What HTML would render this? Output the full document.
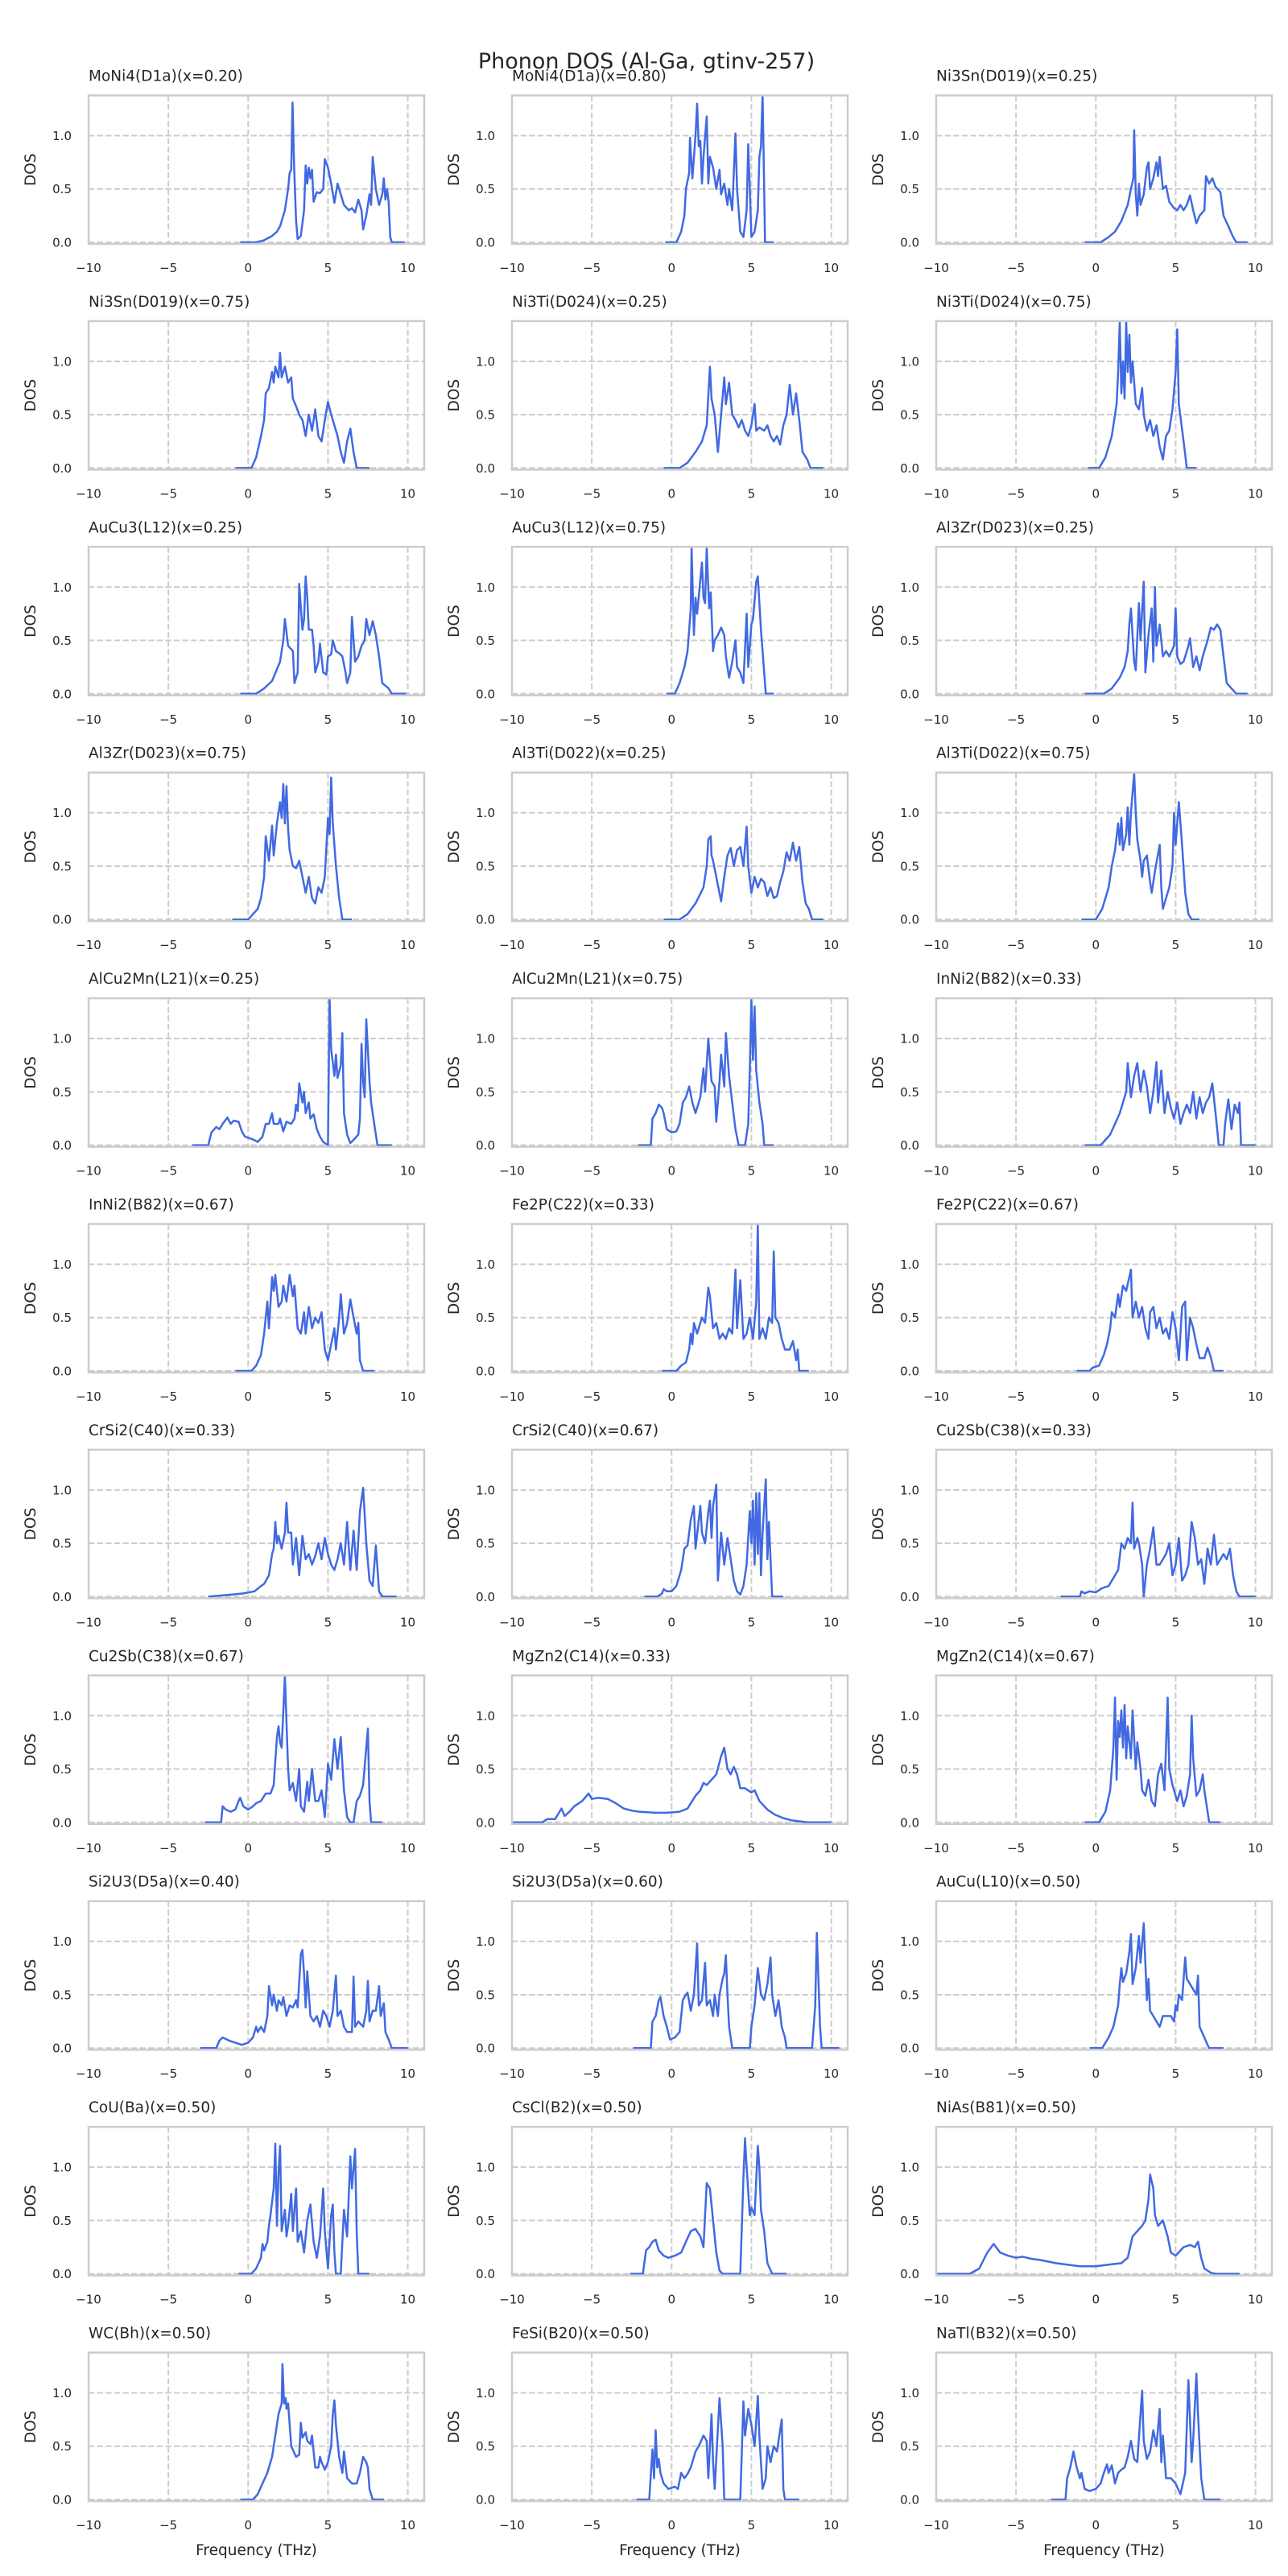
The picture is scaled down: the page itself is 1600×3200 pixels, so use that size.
<!DOCTYPE html>
<html><head><meta charset="utf-8">
<style>
html,body{margin:0;padding:0;background:#fff;}
svg{display:block;font-family:"DejaVu Sans","Liberation Sans",sans-serif;}
</style></head>
<body>
<svg id="fig" width="1600" height="3200" viewBox="0 0 1600 3200" xmlns="http://www.w3.org/2000/svg">
<rect width="1600" height="3200" fill="#fff"/>
<text x="803" y="85" font-size="27" text-anchor="middle" fill="#262626">Phonon DOS (Al-Ga, gtinv-257)</text>
</svg>
<script>
const titles = ["MoNi4(D1a)(x=0.20)","MoNi4(D1a)(x=0.80)","Ni3Sn(D019)(x=0.25)","Ni3Sn(D019)(x=0.75)","Ni3Ti(D024)(x=0.25)","Ni3Ti(D024)(x=0.75)","AuCu3(L12)(x=0.25)","AuCu3(L12)(x=0.75)","Al3Zr(D023)(x=0.25)","Al3Zr(D023)(x=0.75)","Al3Ti(D022)(x=0.25)","Al3Ti(D022)(x=0.75)","AlCu2Mn(L21)(x=0.25)","AlCu2Mn(L21)(x=0.75)","InNi2(B82)(x=0.33)","InNi2(B82)(x=0.67)","Fe2P(C22)(x=0.33)","Fe2P(C22)(x=0.67)","CrSi2(C40)(x=0.33)","CrSi2(C40)(x=0.67)","Cu2Sb(C38)(x=0.33)","Cu2Sb(C38)(x=0.67)","MgZn2(C14)(x=0.33)","MgZn2(C14)(x=0.67)","Si2U3(D5a)(x=0.40)","Si2U3(D5a)(x=0.60)","AuCu(L10)(x=0.50)","CoU(Ba)(x=0.50)","CsCl(B2)(x=0.50)","NiAs(B81)(x=0.50)","WC(Bh)(x=0.50)","FeSi(B20)(x=0.50)","NaTl(B32)(x=0.50)"];
const xTicks = [-10,-5,0,5,10];
const xTickLabels = ["\u221210","\u22125","0","5","10"];
const yTicks = [0,0.5,1.0];
const yTickLabels = ["0.0","0.5","1.0"];
// each series: flat [freq, dos, freq, dos, ...]
const dosSeries = [
[-0.5,0,0.5,0,1,0.02,1.5,0.06,1.8,0.1,2,0.15,2.3,0.3,2.5,0.5,2.6,0.65,2.7,0.68,2.78,1.31,2.88,0.7,3.0,0.2,3.1,0.03,3.3,0.06,3.5,0.3,3.6,0.72,3.7,0.55,3.8,0.7,3.9,0.6,4.0,0.68,4.1,0.38,4.3,0.47,4.5,0.46,4.7,0.5,4.8,0.78,5.0,0.7,5.2,0.55,5.4,0.37,5.6,0.55,5.8,0.45,6.0,0.35,6.3,0.3,6.5,0.32,6.7,0.28,6.9,0.4,7.1,0.3,7.2,0.12,7.4,0.25,7.6,0.45,7.7,0.35,7.8,0.8,8.0,0.5,8.2,0.35,8.4,0.45,8.5,0.6,8.6,0.4,8.7,0.5,8.8,0.38,8.9,0.05,9.0,0,9.8,0],
[-0.4,0,0.3,0,0.6,0.1,0.8,0.25,0.9,0.5,1.1,0.65,1.15,0.98,1.3,0.6,1.5,1.0,1.6,1.3,1.7,0.9,1.8,0.95,1.9,0.55,2.0,0.8,2.2,1.18,2.3,0.55,2.4,0.8,2.6,0.7,2.8,0.5,3.0,0.68,3.1,0.45,3.3,0.55,3.5,0.35,3.6,0.5,3.8,0.3,4.0,1.02,4.1,0.5,4.3,0.1,4.5,0.05,4.7,0.3,4.8,0.92,4.9,0.5,5.0,0.05,5.2,0.1,5.4,0.3,5.5,0.8,5.6,0.9,5.7,1.38,5.8,0.5,5.85,0,6.4,0],
[-0.7,0,0.3,0,0.8,0.05,1.2,0.1,1.6,0.2,2.0,0.35,2.2,0.5,2.35,0.6,2.4,1.05,2.5,0.45,2.6,0.25,2.7,0.55,2.8,0.35,3.0,0.45,3.2,0.7,3.3,0.75,3.4,0.5,3.6,0.6,3.8,0.75,3.9,0.62,4.0,0.8,4.2,0.5,4.4,0.53,4.6,0.38,4.9,0.32,5.1,0.3,5.3,0.35,5.5,0.3,5.7,0.35,5.9,0.44,6.1,0.3,6.3,0.18,6.5,0.25,6.8,0.3,6.9,0.62,7.1,0.55,7.3,0.6,7.5,0.52,7.8,0.47,8.0,0.25,8.3,0.15,8.6,0.05,8.8,0,9.5,0],
[-0.8,0,0.2,0,0.5,0.1,0.8,0.3,1.0,0.45,1.1,0.7,1.3,0.75,1.5,0.9,1.6,0.8,1.7,0.95,1.9,0.85,2.0,1.08,2.1,0.85,2.3,0.95,2.5,0.8,2.7,0.85,2.8,0.65,3.0,0.58,3.2,0.5,3.4,0.45,3.6,0.3,3.8,0.5,4.0,0.35,4.2,0.55,4.4,0.3,4.6,0.25,4.8,0.45,5.0,0.62,5.2,0.5,5.4,0.4,5.6,0.3,5.8,0.15,6.0,0.05,6.2,0.25,6.4,0.37,6.6,0.15,6.8,0,7.6,0],
[-0.5,0,0.5,0,1.0,0.05,1.5,0.15,1.9,0.25,2.2,0.4,2.4,0.95,2.5,0.65,2.7,0.5,2.9,0.15,3.1,0.5,3.3,0.85,3.4,0.6,3.6,0.8,3.8,0.5,4.0,0.45,4.2,0.38,4.4,0.45,4.6,0.35,4.8,0.3,5.0,0.4,5.2,0.6,5.3,0.35,5.5,0.38,5.8,0.35,6.0,0.4,6.2,0.3,6.4,0.25,6.6,0.3,6.8,0.22,7.0,0.4,7.2,0.5,7.4,0.78,7.6,0.5,7.8,0.7,8.0,0.45,8.2,0.15,8.5,0.08,8.7,0,9.5,0],
[-0.5,0,0.2,0,0.6,0.1,1.0,0.3,1.3,0.6,1.4,0.9,1.5,1.37,1.6,0.7,1.7,1.0,1.8,0.65,1.9,1.37,2.0,0.9,2.1,1.25,2.2,0.8,2.3,1.0,2.5,0.6,2.7,0.55,2.9,0.75,3.0,0.5,3.2,0.35,3.4,0.45,3.6,0.3,3.8,0.4,4.0,0.2,4.2,0.08,4.4,0.3,4.6,0.35,4.8,0.55,5.0,0.9,5.1,1.3,5.2,0.6,5.5,0.25,5.7,0,6.3,0],
[-0.5,0,0.5,0,1.0,0.05,1.5,0.12,2.0,0.3,2.2,0.5,2.3,0.7,2.5,0.45,2.8,0.4,2.9,0.1,3.1,0.2,3.2,1.03,3.4,0.6,3.5,0.7,3.6,1.1,3.7,0.9,3.8,0.6,4.0,0.6,4.1,0.45,4.2,0.2,4.4,0.3,4.5,0.47,4.7,0.2,4.9,0.18,5.0,0.35,5.2,0.37,5.3,0.5,5.5,0.4,5.7,0.38,5.9,0.35,6.1,0.2,6.2,0.1,6.4,0.2,6.5,0.72,6.7,0.3,6.9,0.35,7.1,0.45,7.3,0.5,7.4,0.7,7.6,0.55,7.8,0.68,8.0,0.55,8.2,0.35,8.4,0.1,8.8,0.05,9.0,0,9.9,0],
[-0.3,0,0.2,0,0.5,0.1,0.8,0.25,1.0,0.4,1.1,0.6,1.2,0.8,1.25,1.37,1.4,0.55,1.5,0.9,1.6,0.75,1.9,1.23,2.0,0.9,2.1,0.85,2.2,1.37,2.35,0.8,2.45,0.95,2.6,0.4,2.7,0.5,2.9,0.55,3.1,0.62,3.3,0.55,3.4,0.35,3.6,0.15,3.8,0.3,4.0,0.5,4.1,0.25,4.3,0.2,4.5,0.1,4.7,0.75,4.8,0.25,5.0,0.65,5.1,0.7,5.3,1.05,5.4,1.1,5.6,0.6,5.8,0.2,5.9,0,6.4,0],
[-0.7,0,0.5,0,1.0,0.05,1.5,0.15,1.8,0.25,2.0,0.4,2.1,0.65,2.2,0.8,2.3,0.55,2.4,0.3,2.5,0.22,2.7,0.85,2.8,0.5,3.0,1.05,3.1,0.2,3.3,0.55,3.5,0.8,3.6,0.3,3.7,1.0,3.8,0.45,4.0,0.65,4.2,0.35,4.4,0.4,4.6,0.35,4.9,0.45,5.0,0.8,5.1,0.35,5.3,0.28,5.5,0.3,5.8,0.45,5.9,0.52,6.1,0.25,6.3,0.35,6.5,0.22,6.7,0.35,7.0,0.5,7.2,0.62,7.4,0.6,7.6,0.65,7.8,0.6,8.0,0.35,8.2,0.1,8.5,0.05,8.8,0,9.5,0],
[-1,0,0,0,0.3,0.05,0.6,0.1,0.8,0.2,1.0,0.4,1.1,0.78,1.3,0.55,1.5,0.88,1.6,0.6,1.8,0.9,2.0,1.1,2.1,0.95,2.2,1.27,2.3,0.9,2.4,1.25,2.5,0.85,2.6,0.65,2.8,0.5,3.0,0.48,3.2,0.55,3.4,0.4,3.6,0.25,3.8,0.4,4.0,0.2,4.2,0.15,4.4,0.3,4.6,0.25,4.8,0.4,5.0,0.95,5.1,0.8,5.2,1.33,5.3,0.9,5.5,0.5,5.7,0.2,5.9,0,6.5,0],
[-0.5,0,0.5,0,1.0,0.05,1.5,0.15,2.0,0.3,2.2,0.5,2.3,0.75,2.45,0.78,2.5,0.6,2.6,0.55,2.8,0.4,3.1,0.17,3.3,0.4,3.5,0.6,3.7,0.67,3.9,0.5,4.1,0.65,4.3,0.68,4.5,0.5,4.7,0.87,4.8,0.5,5.0,0.25,5.2,0.4,5.4,0.3,5.6,0.38,5.8,0.35,6.0,0.22,6.2,0.3,6.4,0.2,6.6,0.22,6.8,0.35,7.0,0.45,7.2,0.63,7.4,0.55,7.6,0.72,7.8,0.55,8.0,0.68,8.2,0.35,8.4,0.15,8.6,0.1,8.8,0,9.5,0],
[-0.9,0,0,0,0.4,0.1,0.8,0.3,1.0,0.5,1.2,0.65,1.4,0.9,1.5,0.7,1.6,0.95,1.7,0.65,1.9,0.8,2.0,1.05,2.1,0.7,2.2,1.0,2.4,1.37,2.5,1.0,2.6,0.75,2.8,0.55,2.9,0.4,3.0,0.55,3.2,0.6,3.4,0.35,3.5,0.25,3.7,0.45,4.0,0.7,4.1,0.3,4.2,0.1,4.4,0.2,4.6,0.3,4.8,0.5,4.9,1.0,5.0,0.7,5.2,1.1,5.4,0.7,5.6,0.25,5.8,0.05,6.0,0,6.5,0],
[-3.5,0,-2.5,0,-2.3,0.12,-2.0,0.17,-1.8,0.15,-1.6,0.2,-1.3,0.26,-1.1,0.2,-0.9,0.23,-0.6,0.22,-0.4,0.13,-0.2,0.08,0.2,0.06,0.5,0.04,0.6,0.03,0.9,0.08,1.1,0.2,1.3,0.2,1.5,0.3,1.6,0.2,1.9,0.2,2.0,0.25,2.2,0.13,2.4,0.22,2.7,0.2,2.9,0.25,3.0,0.38,3.1,0.32,3.2,0.58,3.4,0.4,3.5,0.5,3.6,0.3,3.8,0.4,3.9,0.25,4.1,0.29,4.3,0.15,4.5,0.08,4.7,0.03,5.0,0,5.1,1.37,5.2,0.9,5.4,0.65,5.5,0.85,5.6,0.63,5.8,0.75,5.9,1.05,6.0,0.3,6.2,0.1,6.4,0.02,6.6,0.05,6.9,0.1,7.0,0.25,7.1,0.95,7.2,0.6,7.3,0.45,7.4,1.18,7.6,0.6,7.7,0.4,7.9,0.2,8.1,0,9.0,0],
[-2.1,0,-1.3,0,-1.2,0.25,-1.0,0.3,-0.8,0.38,-0.6,0.35,-0.5,0.3,-0.3,0.15,0,0.12,0.3,0.13,0.5,0.2,0.7,0.4,0.9,0.45,1.1,0.55,1.3,0.4,1.5,0.3,1.8,0.45,2.0,0.72,2.1,0.5,2.3,1.0,2.5,0.6,2.7,0.55,2.8,0.22,3.0,0.6,3.1,0.85,3.3,0.55,3.4,1.05,3.6,0.65,3.8,0.4,4.0,0.15,4.2,0,4.6,0,4.8,0.2,4.9,0.7,5.0,1.37,5.1,0.8,5.2,1.3,5.3,0.7,5.5,0.4,5.7,0.2,5.8,0,6.4,0],
[-0.7,0,0.3,0,0.6,0.05,0.9,0.1,1.2,0.2,1.5,0.3,1.7,0.4,1.9,0.5,2.0,0.77,2.2,0.45,2.4,0.65,2.6,0.77,2.8,0.5,3.0,0.7,3.2,0.55,3.4,0.3,3.6,0.5,3.8,0.78,3.9,0.4,4.1,0.7,4.3,0.3,4.5,0.5,4.7,0.35,4.9,0.25,5.1,0.4,5.3,0.2,5.5,0.3,5.7,0.38,5.9,0.3,6.1,0.5,6.3,0.25,6.5,0.45,6.7,0.3,6.9,0.4,7.1,0.45,7.3,0.58,7.5,0.3,7.7,0,8.0,0,8.1,0.2,8.3,0.43,8.5,0.15,8.7,0.38,8.9,0.3,9.0,0.4,9.1,0,10.0,0],
[-0.8,0,0.2,0,0.5,0.05,0.8,0.15,1.0,0.35,1.2,0.65,1.3,0.4,1.5,0.88,1.6,0.75,1.7,0.9,1.9,0.6,2.1,0.65,2.2,0.8,2.4,0.65,2.6,0.9,2.8,0.7,2.9,0.8,3.1,0.4,3.3,0.35,3.5,0.55,3.6,0.35,3.8,0.6,4.0,0.4,4.2,0.5,4.4,0.45,4.6,0.55,4.8,0.2,5.0,0.1,5.2,0.25,5.4,0.4,5.5,0.2,5.7,0.5,5.8,0.72,6.0,0.35,6.2,0.45,6.4,0.67,6.6,0.5,6.8,0.35,6.9,0.45,7.0,0.1,7.2,0,7.9,0],
[-0.6,0,0.3,0,0.6,0.05,0.9,0.08,1.1,0.2,1.2,0.35,1.3,0.25,1.4,0.45,1.6,0.35,1.8,0.45,1.9,0.5,2.1,0.45,2.3,0.78,2.4,0.7,2.6,0.4,2.8,0.45,3.0,0.3,3.2,0.35,3.4,0.3,3.6,0.4,3.8,0.35,4.0,0.95,4.1,0.4,4.3,0.85,4.5,0.3,4.7,0.35,4.9,0.5,5.1,0.3,5.3,0.65,5.4,1.37,5.5,0.3,5.7,0.4,5.9,0.3,6.1,0.5,6.3,0.45,6.4,1.12,6.5,0.5,6.7,0.45,6.9,0.3,7.1,0.2,7.4,0.2,7.6,0.28,7.8,0.1,7.9,0.2,8.0,0,8.6,0],
[-1.2,0,-0.4,0,-0.2,0.03,0.2,0.05,0.5,0.15,0.7,0.25,0.9,0.4,1.0,0.55,1.2,0.5,1.4,0.72,1.5,0.6,1.7,0.8,1.9,0.75,2.2,0.95,2.3,0.5,2.5,0.65,2.7,0.5,2.9,0.6,3.1,0.4,3.3,0.3,3.4,0.55,3.6,0.6,3.8,0.4,4.0,0.5,4.2,0.35,4.4,0.4,4.6,0.3,4.8,0.55,5.0,0.4,5.2,0.1,5.4,0.6,5.6,0.65,5.7,0.1,5.9,0.5,6.1,0.4,6.3,0.25,6.5,0.12,6.8,0.12,7.0,0.22,7.2,0.13,7.4,0,8.0,0],
[-2.5,0,-1.0,0.02,-0.3,0.03,0.4,0.05,0.8,0.1,1.0,0.12,1.3,0.2,1.5,0.4,1.6,0.45,1.7,0.7,1.8,0.5,1.9,0.57,2.1,0.45,2.3,0.6,2.4,0.88,2.5,0.6,2.7,0.6,2.8,0.3,3.0,0.55,3.2,0.2,3.4,0.57,3.6,0.35,3.8,0.4,4.0,0.3,4.2,0.38,4.4,0.5,4.6,0.35,4.8,0.55,5.0,0.4,5.2,0.3,5.4,0.25,5.6,0.35,5.8,0.5,6.0,0.3,6.2,0.7,6.4,0.25,6.6,0.62,6.8,0.25,7.0,0.8,7.2,1.02,7.4,0.5,7.6,0.15,7.8,0.1,8.0,0.48,8.2,0.05,8.4,0,9.3,0],
[-1.7,0,-0.9,0,-0.6,0.03,-0.5,0.07,-0.3,0.05,0,0.05,0.3,0.1,0.6,0.25,0.8,0.45,1.0,0.48,1.2,0.72,1.4,0.85,1.5,0.45,1.8,0.85,1.9,0.6,2.1,0.5,2.3,0.8,2.4,0.9,2.5,0.55,2.6,0.85,2.8,1.05,2.9,0.15,3.1,0.6,3.3,0.3,3.5,0.55,3.7,0.35,3.9,0.15,4.1,0.05,4.3,0.02,4.5,0.1,4.7,0.3,4.9,0.8,5.0,0.5,5.1,0.9,5.2,0.3,5.3,0.97,5.4,0.4,5.5,0.97,5.6,0.2,5.7,0.6,5.9,1.1,6.0,0.35,6.1,0.7,6.3,0,7.0,0],
[-2.2,0,-1.0,0,-0.9,0.05,-0.7,0.03,-0.4,0.05,0,0.04,0.4,0.08,0.8,0.1,1.2,0.2,1.4,0.25,1.6,0.5,1.8,0.45,2.0,0.55,2.2,0.5,2.3,0.88,2.4,0.45,2.6,0.55,2.7,0.5,2.9,0.3,3.0,0,3.2,0.3,3.4,0.45,3.6,0.65,3.8,0.3,4.0,0.3,4.2,0.35,4.4,0.4,4.6,0.5,4.8,0.2,5.0,0.3,5.2,0.55,5.4,0.15,5.6,0.2,5.8,0.3,6.0,0.7,6.2,0.55,6.4,0.3,6.6,0.35,6.8,0.12,7.0,0.45,7.2,0.3,7.4,0.58,7.6,0.3,7.8,0.35,8.0,0.4,8.2,0.35,8.4,0.45,8.6,0.2,8.8,0.05,9.0,0,10.0,0],
[-2.7,0,-1.7,0,-1.6,0.15,-1.4,0.12,-1.1,0.1,-0.8,0.12,-0.6,0.2,-0.5,0.23,-0.3,0.15,0,0.12,0.3,0.15,0.5,0.18,0.8,0.2,1.1,0.27,1.4,0.27,1.6,0.35,1.8,0.8,1.9,0.9,2.0,0.75,2.1,0.7,2.3,1.37,2.5,0.5,2.6,0.3,2.8,0.37,3.0,0.2,3.2,0.5,3.3,0.15,3.5,0.1,3.7,0.38,3.8,0.2,4.0,0.5,4.2,0.2,4.4,0.2,4.6,0.3,4.8,0.05,5.0,0.55,5.2,0.4,5.4,0.78,5.6,0.5,5.8,0.8,6.0,0.3,6.2,0.05,6.4,0,6.6,0,6.8,0.2,7.0,0.25,7.2,0.35,7.4,0.7,7.5,0.88,7.6,0.2,7.7,0,8.4,0],
[-10,0,-8.1,0,-7.8,0.03,-7.3,0.03,-6.9,0.13,-6.7,0.06,-6.4,0.1,-6.1,0.15,-5.6,0.2,-5.2,0.27,-5.0,0.22,-4.6,0.23,-4.0,0.22,-3.5,0.18,-3.0,0.13,-2.5,0.11,-2.0,0.1,-1.0,0.09,-0.3,0.09,0.5,0.1,1.0,0.13,1.5,0.25,1.8,0.3,2.0,0.37,2.2,0.35,2.5,0.4,2.8,0.45,3.1,0.62,3.3,0.7,3.5,0.5,3.7,0.45,3.9,0.52,4.1,0.45,4.3,0.32,4.6,0.32,5.0,0.28,5.2,0.3,5.5,0.2,6.0,0.12,6.5,0.07,7.0,0.04,7.5,0.02,8.0,0.01,8.5,0,10.0,0],
[-0.7,0,0.2,0,0.6,0.1,0.9,0.3,1.1,0.7,1.2,1.17,1.3,0.4,1.4,0.95,1.5,0.8,1.6,1.05,1.7,0.7,1.8,1.1,1.9,0.6,2.0,0.9,2.2,0.6,2.3,1.05,2.5,0.5,2.6,0.75,2.8,0.5,2.9,0.3,3.1,0.25,3.3,0.4,3.5,0.2,3.7,0.15,3.9,0.45,4.1,0.55,4.3,0.3,4.5,1.17,4.6,0.5,4.8,0.35,5.0,0.25,5.1,0.2,5.3,0.3,5.5,0.15,5.7,0.25,5.9,0.45,6.0,1.0,6.1,0.6,6.3,0.25,6.5,0.3,6.7,0.45,6.8,0.3,7.0,0.1,7.1,0,7.8,0],
[-3.0,0,-2.0,0,-1.8,0.07,-1.6,0.1,-1.2,0.07,-0.8,0.05,-0.4,0.03,0,0.05,0.3,0.1,0.5,0.2,0.6,0.15,0.8,0.2,1.0,0.15,1.2,0.3,1.3,0.58,1.5,0.4,1.6,0.5,1.8,0.35,1.9,0.45,2.1,0.4,2.2,0.48,2.4,0.3,2.6,0.4,2.8,0.38,3.0,0.45,3.1,0.38,3.3,0.88,3.4,0.92,3.5,0.7,3.6,0.38,3.7,0.72,3.9,0.3,4.1,0.25,4.3,0.3,4.5,0.2,4.7,0.35,4.9,0.3,5.1,0.2,5.3,0.35,5.5,0.68,5.6,0.3,5.8,0.35,6.0,0.2,6.2,0.15,6.5,0.15,6.6,0.67,6.7,0.2,6.9,0.25,7.2,0.2,7.4,0.35,7.5,0.63,7.6,0.25,7.8,0.35,8.0,0.35,8.2,0.58,8.3,0.3,8.5,0.42,8.6,0.15,8.8,0.08,9.0,0,10.0,0],
[-2.4,0,-1.3,0,-1.2,0.25,-1.0,0.3,-0.8,0.45,-0.7,0.48,-0.5,0.3,-0.3,0.2,-0.1,0.08,0.2,0.1,0.5,0.15,0.7,0.45,0.9,0.5,1.0,0.52,1.2,0.35,1.4,0.5,1.6,0.98,1.7,0.4,1.9,0.45,2.1,0.8,2.2,0.4,2.4,0.45,2.6,0.3,2.7,0.5,2.9,0.3,3.0,0.5,3.2,0.65,3.3,0.7,3.4,0.87,3.5,0.5,3.6,0.2,3.8,0,4.9,0,5.0,0.2,5.2,0.4,5.4,0.75,5.6,0.5,5.8,0.45,6.0,0.6,6.2,0.85,6.3,0.5,6.5,0.3,6.7,0.45,6.9,0.2,7.1,0.1,7.2,0,8.8,0,9.0,0.4,9.1,1.08,9.3,0.2,9.4,0,10.5,0],
[-0.4,0,0.4,0,0.8,0.1,1.1,0.2,1.4,0.4,1.5,0.6,1.6,0.75,1.7,0.62,1.9,0.7,2.1,0.9,2.2,1.07,2.3,0.6,2.5,0.75,2.7,1.05,2.8,0.8,3.0,1.17,3.2,0.45,3.3,0.65,3.4,0.35,3.6,0.3,3.8,0.25,4.0,0.2,4.2,0.3,4.5,0.3,4.7,0.3,4.9,0.25,5.0,0.4,5.1,0.35,5.2,0.5,5.4,0.45,5.6,0.85,5.7,0.65,5.9,0.6,6.1,0.55,6.3,0.5,6.4,0.68,6.5,0.2,6.8,0.1,7.0,0.03,7.1,0,8.0,0],
[-0.6,0,0.2,0,0.5,0.05,0.8,0.15,0.9,0.28,1.0,0.22,1.2,0.3,1.3,0.45,1.4,0.55,1.6,0.8,1.7,1.22,1.8,0.45,1.9,0.95,2.0,1.2,2.1,0.4,2.3,0.6,2.4,0.35,2.5,0.45,2.7,0.75,2.8,0.4,3.0,0.8,3.1,0.3,3.3,0.4,3.5,0.2,3.7,0.5,3.9,0.65,4.1,0.3,4.3,0.15,4.5,0.35,4.7,0.8,4.8,0.4,5.0,0.05,5.2,0.55,5.3,0.65,5.4,0.2,5.5,0,5.8,0,6.0,0.6,6.2,0.35,6.4,1.1,6.5,0.8,6.7,1.17,6.8,0.4,6.9,0,7.6,0],
[-2.6,0,-1.8,0,-1.6,0.22,-1.4,0.25,-1.2,0.3,-1.0,0.32,-0.8,0.22,-0.5,0.17,-0.2,0.15,0.2,0.17,0.6,0.2,0.9,0.3,1.2,0.4,1.5,0.42,1.8,0.35,2.0,0.25,2.2,0.85,2.4,0.8,2.6,0.5,2.8,0.2,3.0,0.03,3.2,0,4.3,0,4.5,0.9,4.6,1.27,4.7,1.0,4.9,0.55,5.0,0.62,5.2,0.55,5.4,1.2,5.5,1.0,5.6,0.6,5.8,0.4,6.0,0.1,6.3,0,7.2,0],
[-10,0,-7.9,0,-7.3,0.05,-6.8,0.2,-6.4,0.28,-6.0,0.2,-5.5,0.17,-5.0,0.15,-4.6,0.16,-4.0,0.14,-3.5,0.13,-2.5,0.1,-1.5,0.08,-1.0,0.07,0,0.07,1.0,0.09,1.6,0.1,2.0,0.15,2.3,0.35,2.6,0.4,2.9,0.45,3.1,0.5,3.3,0.7,3.4,0.93,3.6,0.8,3.7,0.55,3.9,0.45,4.2,0.5,4.5,0.35,4.7,0.2,5.0,0.17,5.5,0.25,5.9,0.27,6.2,0.25,6.4,0.3,6.6,0.15,6.8,0.05,7.2,0.01,7.5,0,9.0,0],
[-0.5,0,0.3,0,0.6,0.05,0.9,0.15,1.2,0.25,1.5,0.4,1.7,0.6,1.9,0.8,2.0,0.85,2.1,0.9,2.15,1.27,2.25,0.9,2.35,0.95,2.4,0.85,2.5,0.9,2.7,0.5,3.0,0.4,3.2,0.42,3.3,0.72,3.4,0.58,3.6,0.63,3.7,0.55,3.9,0.52,4.0,0.6,4.2,0.3,4.4,0.3,4.5,0.4,4.6,0.35,4.8,0.28,5.0,0.35,5.2,0.5,5.3,0.8,5.4,0.93,5.5,0.7,5.7,0.4,5.9,0.25,6.0,0.45,6.2,0.2,6.5,0.15,6.8,0.15,7.0,0.25,7.2,0.4,7.4,0.35,7.5,0.3,7.6,0.1,7.8,0,8.5,0],
[-2.2,0,-1.4,0,-1.2,0.47,-1.1,0.2,-1.0,0.65,-0.9,0.3,-0.8,0.38,-0.7,0.25,-0.5,0.15,-0.2,0.1,0.2,0.12,0.4,0.1,0.6,0.25,0.8,0.2,1.0,0.24,1.2,0.3,1.5,0.45,1.7,0.5,2.0,0.6,2.2,0.55,2.3,0.2,2.5,0.8,2.6,0.35,2.7,0.1,3.0,0.95,3.2,0.5,3.3,0,4.3,0,4.5,0.92,4.6,0.6,4.8,0.85,5.0,0.7,5.2,0.5,5.4,0.97,5.5,0.6,5.7,0.1,5.9,0.2,6.0,0.5,6.2,0.35,6.4,0.5,6.6,0.45,6.8,0.65,6.9,0.75,7.0,0.1,7.1,0,8.0,0],
[-2.8,0,-1.9,0,-1.8,0.2,-1.6,0.3,-1.4,0.45,-1.2,0.3,-1.0,0.2,-0.9,0.25,-0.7,0.1,-0.4,0.08,0,0.1,0.3,0.15,0.5,0.25,0.7,0.33,0.8,0.25,1.0,0.32,1.2,0.15,1.4,0.25,1.6,0.28,1.8,0.3,2.0,0.4,2.2,0.55,2.4,0.38,2.6,0.35,2.8,0.8,2.9,1.02,3.0,0.55,3.2,0.38,3.4,0.45,3.6,0.65,3.8,0.5,4.0,0.85,4.1,0.35,4.2,0.6,4.4,0.2,4.7,0.2,5.0,0.15,5.3,0.05,5.6,0.25,5.8,1.12,6.0,0.35,6.1,0.55,6.3,1.18,6.4,0.8,6.6,0.2,6.8,0,7.8,0]
];

const NS = "http://www.w3.org/2000/svg";
const svg = document.getElementById('fig');
const colLeft = [110, 636, 1163];
const plotW = 417, plotH = 184.5, rowTop0 = 118.5, rowStep = 280.4;
const xMin = -10, xMax = 11.03, yMin = -0.015, yMax = 1.377;
function mk(tag, attrs, parent) {
  const e = document.createElementNS(NS, tag);
  for (const k in attrs) e.setAttribute(k, attrs[k]);
  (parent || svg).appendChild(e);
  return e;
}
titles.forEach((t, i) => {
  const col = i % 3, row = Math.floor(i / 3);
  const L = colLeft[col], T = rowTop0 + row * rowStep;
  const sx = v => L + (v - xMin) / (xMax - xMin) * plotW;
  const sy = v => T + plotH - (v - yMin) / (yMax - yMin) * plotH;
  const g = mk('g', {});
  
  
  const bg = mk('rect', {x: L, y: T, width: plotW, height: plotH, fill: '#fff'}, g);
  
  
  xTicks.forEach((v, k) => {
    const ln = mk('line', {x1: sx(v), x2: sx(v), y1: T, y2: T + plotH, stroke: '#cccccc', 'stroke-width': 2, 'stroke-dasharray': '7.4,3.2'}, g);
    
    
    const tx = mk('text', {x: sx(v), y: T + plotH + 35, 'font-size': 15, 'text-anchor': 'middle', fill: '#262626'}, g);
    tx.textContent = xTickLabels[k];
    
    
  });
  yTicks.forEach((v, k) => {
    const ln = mk('line', {x1: L, x2: L + plotW, y1: sy(v), y2: sy(v), stroke: '#cccccc', 'stroke-width': 2, 'stroke-dasharray': '7.4,3.2'}, g);
    
    
    const tx = mk('text', {x: L - 21, y: sy(v) + 5.5, 'font-size': 15, 'text-anchor': 'end', fill: '#262626'}, g);
    tx.textContent = yTickLabels[k];
    
    
  });
  const s = dosSeries[i];
  let d = '';
  for (let j = 0; j < s.length; j += 2) d += (j ? 'L' : 'M') + sx(s[j]).toFixed(1) + ',' + sy(s[j + 1]).toFixed(1);
  const cp = mk('clipPath', {id: 'clip' + i}, g);
  mk('rect', {x: L, y: T, width: plotW, height: plotH}, cp);
  const p = mk('path', {d: d, fill: 'none', stroke: '#4169e1', 'stroke-width': 2.5, 'stroke-linejoin': 'round', 'clip-path': 'url(#clip' + i + ')'}, g);
  
  
  const fr = mk('rect', {x: L, y: T, width: plotW, height: plotH, fill: 'none', stroke: '#cccccc', 'stroke-width': 2.5}, g);
  
  
  const tt = mk('text', {x: L, y: T - 18, 'font-size': 18.5, fill: '#262626'}, g);
  tt.textContent = t;
  
  
  const yl = mk('text', {x: 0, y: 0, 'font-size': 18.5, 'text-anchor': 'middle', fill: '#262626', transform: 'translate(' + (L - 66) + ',' + (T + plotH / 2) + ') rotate(-90)'}, g);
  yl.textContent = 'DOS';
  
  
  if (row === 10) {
    const xl = mk('text', {x: L + plotW / 2, y: T + plotH + 67, 'font-size': 18.5, 'text-anchor': 'middle', fill: '#262626'}, g);
    xl.textContent = 'Frequency (THz)';
    
    
  }
});
</script>
</body></html>
